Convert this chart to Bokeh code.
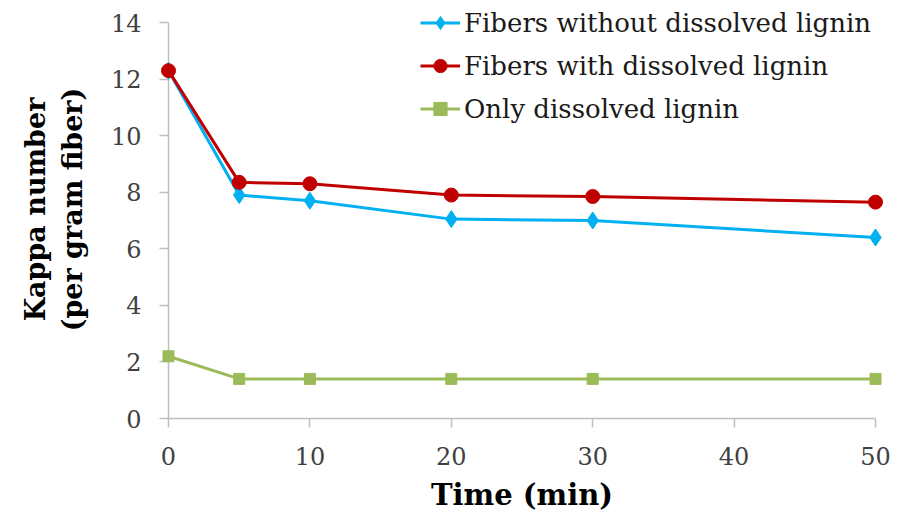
from bokeh.plotting import figure
from bokeh.models import Range1d, FixedTicker, Legend, LegendItem
from bokeh.embed import file_html
from bokeh.resources import INLINE

time_min = [0, 5, 10, 20, 30, 50]
fibers_without = [12.3, 7.9, 7.7, 7.05, 7.0, 6.4]
fibers_with = [12.3, 8.35, 8.3, 7.9, 7.85, 7.65]
only_lignin = [2.2, 1.4, 1.4, 1.4, 1.4, 1.4]

x_ticks = [0, 10, 20, 30, 40, 50]
y_ticks = [0, 2, 4, 6, 8, 10, 12, 14]

FONT = "DejaVu Serif"
AXIS_COLOR = "#BFBFBF"

p = figure(width=900, height=517, output_backend="svg", toolbar_location=None,
           x_range=Range1d(0, 50), y_range=Range1d(0, 14.78),
           min_border_left=168, min_border_right=25, min_border_top=0, min_border_bottom=99)
p.outline_line_color = None
p.xgrid.grid_line_color = None
p.ygrid.grid_line_color = None

series = [
    ("Fibers without dissolved lignin", fibers_without, "#00B0F0", "diamond", 17),
    ("Fibers with dissolved lignin", fibers_with, "#C00000", "circle", 14),
    ("Only dissolved lignin", only_lignin, "#9BBB59", "square", 11),
]
items = []
for name, vals, color, marker, size in series:
    ln = p.line(time_min, vals, line_color=color, line_width=3, level="overlay")
    sc = p.scatter(time_min, vals, marker=marker, size=size, fill_color=color,
                   line_color=color, level="overlay")
    items.append(LegendItem(label=name, renderers=[ln, sc]))

for ax in (p.xaxis[0], p.yaxis[0]):
    ax.axis_line_color = AXIS_COLOR
    ax.axis_line_width = 1.5
    ax.major_tick_line_color = AXIS_COLOR
    ax.major_tick_line_width = 1.5
    ax.major_tick_in = 0
    ax.major_tick_out = 9
    ax.minor_tick_line_color = None
    ax.major_label_text_font = FONT
    ax.major_label_text_font_size = "24px"
    ax.major_label_text_color = "#404040"
    ax.axis_label_text_font = FONT
    ax.axis_label_text_font_style = "bold"
    ax.axis_label_text_color = "#000000"

p.yaxis.bounds = (0, 14)
p.xaxis.ticker = FixedTicker(ticks=x_ticks)
p.yaxis.ticker = FixedTicker(ticks=y_ticks)
p.xaxis.major_label_standoff = 19
p.yaxis.major_label_standoff = 18
p.xaxis.axis_label = "Time (min)"
p.xaxis.axis_label_text_font_size = "29px"
p.xaxis.axis_label_standoff = 10
p.yaxis.axis_label = "Kappa number\n(per gram fiber)"
p.yaxis.axis_label_text_font_size = "27px"
p.yaxis.axis_label_standoff = 20

legend = Legend(items=items, location=(252, 293), padding=0, margin=0,
                background_fill_alpha=0, border_line_color=None,
                label_text_font=FONT, label_text_font_size="26px",
                label_text_color="#1A1A1A",
                glyph_width=40, glyph_height=33, label_height=33,
                label_standoff=4, spacing=10)
p.add_layout(legend)

open("out.html", "w").write(file_html(p, INLINE))
